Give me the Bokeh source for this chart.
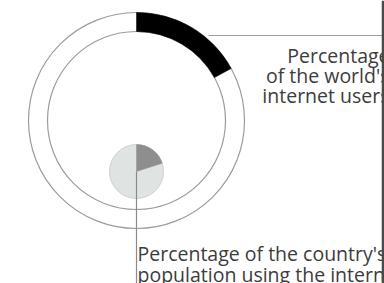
import math
from bokeh.plotting import figure
from bokeh.models import Range1d
from bokeh.core.properties import value
from bokeh.embed import file_html
from bokeh.resources import INLINE

# ---- data ----
world_share_pct = [17]          # share of the world's internet users (black arc)
population_online_pct = [20]    # share of the country's population online (dark wedge)
world_label_lines = ["Percentage", "of the world's", "internet users"]
country_label_lines = ["Percentage of the country's", "population using the internet"]

W, H = 384, 283
def Y(py):
    # convert picture pixel row to data y (y up)
    return H - py

p = figure(width=W, height=H, x_range=Range1d(0, W), y_range=Range1d(0, H),
           output_backend="svg", toolbar_location=None, min_border=0)
p.axis.visible = False
p.grid.visible = False
p.outline_line_color = None
p.background_fill_color = "white"
p.border_fill_color = "white"

cx, cy = 136, Y(120)
r_out, r_in = 108, 89
ring_col = "#9c9c9c"

# rings
p.circle(x=[cx], y=[cy], radius=r_out, fill_color=None, line_color=ring_col, line_width=1.2)
p.circle(x=[cx], y=[cy], radius=r_in, fill_color=None, line_color=ring_col, line_width=1.2)

# black arc: world share
top = math.pi / 2
p.annular_wedge(x=[cx], y=[cy], inner_radius=r_in, outer_radius=r_out,
                start_angle=[top - 2 * math.pi * v / 100 for v in world_share_pct],
                end_angle=[top] * len(world_share_pct),
                fill_color="black", line_color="black", line_width=0.5)

# small pie: country population online
px, py = 136, Y(171)
pr = 27
p.circle(x=[px], y=[py], radius=pr, fill_color="#dfe4e2", line_color="#cdd2d0", line_width=1)
p.wedge(x=[px], y=[py], radius=pr,
        start_angle=[top - 2 * math.pi * v / 100 for v in population_online_pct],
        end_angle=[top] * len(population_online_pct),
        fill_color="#8e8e8e", line_color="#8e8e8e", line_width=0.5)

# leader lines
p.segment(x0=[208], y0=[Y(35)], x1=[W], y1=[Y(35)], line_color="#a0a0a0", line_width=1.2)
p.segment(x0=[px], y0=[py], x1=[px], y1=[Y(H)], line_color="#8a8a8a", line_width=1.2)

# labels
font = value("Open Sans")
tx = 389
p.text(x=[tx] * len(world_label_lines),
       y=[Y(55 + 20 * i) for i in range(len(world_label_lines))],
       text=world_label_lines, text_align="right", text_baseline="alphabetic",
       text_font=font, text_font_size="19.5px", text_color="#3c3c3c")
p.text(x=[137] * len(country_label_lines),
       y=[Y(253 + 21 * i) for i in range(len(country_label_lines))],
       text=country_label_lines, text_align="left", text_baseline="alphabetic",
       text_font=font, text_font_size="19.5px", text_color="#3c3c3c")

# right edge rule
p.segment(x0=[382.5], y0=[Y(0)], x1=[382.5], y1=[Y(H)], line_color="#4a4a4a", line_width=2.5)

open("out.html", "w").write(file_html(p, INLINE))
